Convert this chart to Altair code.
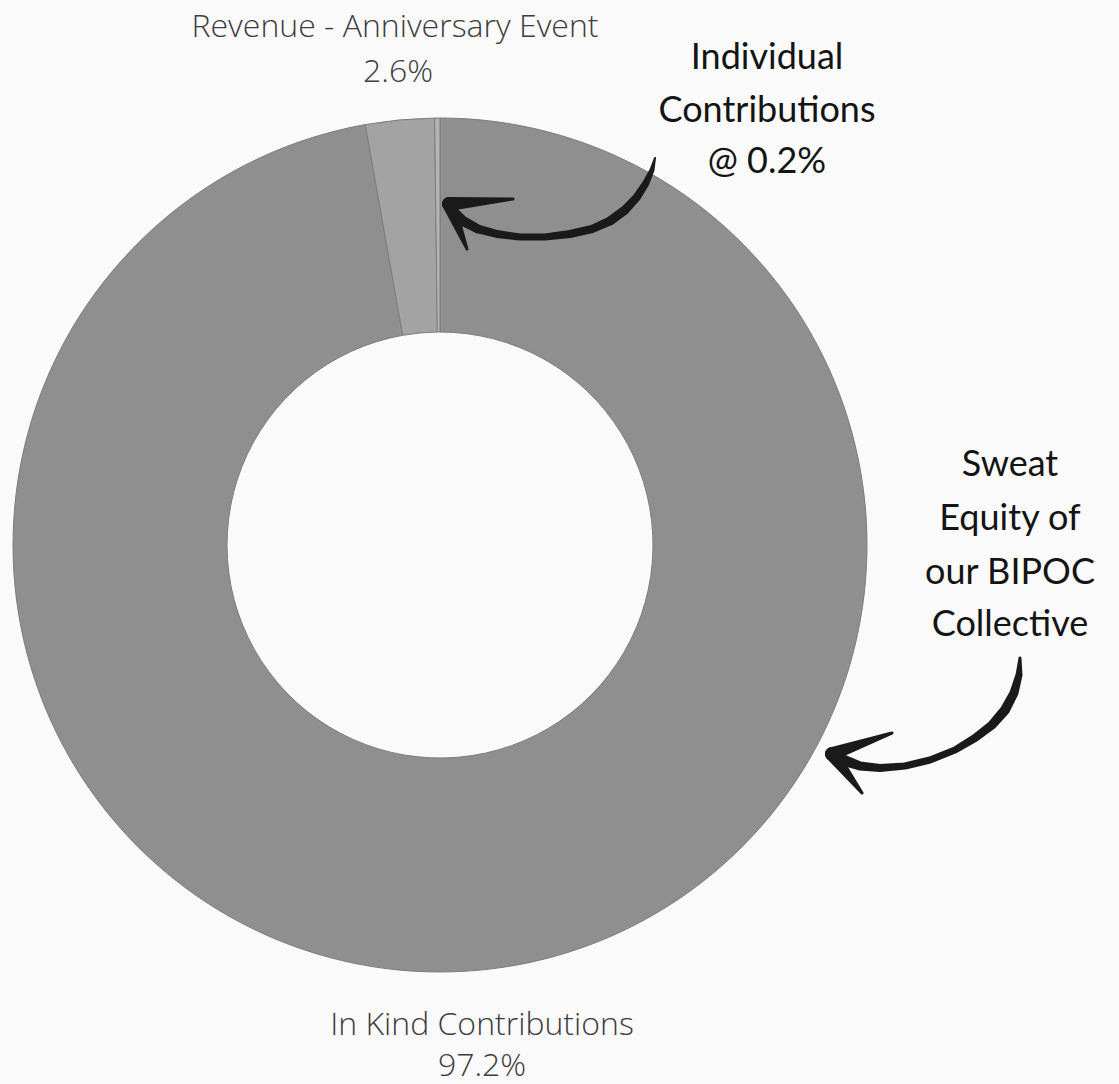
import altair as alt
import pandas as pd

# ---- data ----
categories = ["In Kind Contributions", "Revenue - Anniversary Event", "Individual Contributions"]
shares = [97.2, 2.6, 0.2]
slice_order = [1, 2, 3]
slice_colors = ["#8f8f8f", "#a3a3a3", "#b4b4b4"]

label_lines = ["Revenue - Anniversary Event", "2.6%", "In Kind Contributions", "97.2%"]
note_lines = ["Individual", "Contributions", "@ 0.2%", "Sweat", "Equity of", "our BIPOC", "Collective"]

W, H = 1119, 1084
CX, CY = 440, 545
R_OUT, R_IN = 427, 213

df = pd.DataFrame({"category": categories, "share": shares, "ord": slice_order})

donut = alt.Chart(df).mark_arc(
    outerRadius=R_OUT, innerRadius=R_IN, stroke="#7d7d7d", strokeWidth=1
).encode(
    theta=alt.Theta("share:Q", stack=True),
    order=alt.Order("ord:Q"),
    color=alt.Color("category:N", scale=alt.Scale(domain=categories, range=slice_colors), legend=None),
    x=alt.value(CX),
    y=alt.value(CY),
)

# slice labels
lab_df = pd.DataFrame({
    "t": label_lines,
    "px": [395, 398, 482, 482],
    "py": [27, 72, 1025, 1066],
})
labels = alt.Chart(lab_df).mark_text(
    font="Open Sans", fontWeight=300, fontSize=32,
    color="#3d3d3d", align="center", baseline="middle"
).encode(
    x=alt.X("px:Q", scale=None), y=alt.Y("py:Q", scale=None), text="t:N"
)

# handwritten-style notes
note_df = pd.DataFrame({
    "t": note_lines,
    "px": [767, 767, 767, 1010, 1010, 1010, 1010],
    "py": [58, 111, 162, 465, 519, 573, 625],
})
notes = alt.Chart(note_df).mark_text(
    font="Lato", fontWeight=400, fontSize=36,
    color="#141414", align="center", baseline="middle"
).encode(
    x=alt.X("px:Q", scale=None), y=alt.Y("py:Q", scale=None), text="t:N"
)

# arrows (annotation strokes)
arrow1_x = [655, 652, 646, 637, 625, 610, 592, 570, 545, 520, 497, 478, 463, 453, 449]
arrow1_y = [158, 170, 183, 197, 210, 221, 229, 234, 237, 237, 234, 229, 221, 212, 204]
arrow1_w = [2, 5, 7, 8, 9, 9, 8, 8, 7, 7, 8, 9, 10, 11, 11]
arrow2_x = [1020, 1019, 1014, 1005, 992, 975, 955, 930, 905, 880, 860, 843, 832]
arrow2_y = [658, 675, 693, 710, 725, 738, 750, 760, 766, 768, 766, 760, 754]
arrow2_w = [3, 7, 9, 10, 9, 8, 7, 7, 7, 8, 9, 11, 11]
heads = [
    ([449, 513], [204, 199], "h1a"),
    ([449, 467], [204, 249], "h1b"),
    ([832, 892], [754, 733], "h2a"),
    ([832, 862], [754, 793], "h2b"),
]

rows = []
for i, (x, y, w) in enumerate(zip(arrow1_x, arrow1_y, arrow1_w)):
    rows.append({"g": "a1", "i": i, "px": x, "py": y, "w": w})
for i, (x, y, w) in enumerate(zip(arrow2_x, arrow2_y, arrow2_w)):
    rows.append({"g": "a2", "i": i, "px": x, "py": y, "w": w})
arrow_df = pd.DataFrame(rows)

shafts = alt.Chart(arrow_df).mark_trail(color="#1a1a1a").encode(
    x=alt.X("px:Q", scale=None),
    y=alt.Y("py:Q", scale=None),
    detail="g:N",
    order="i:Q",
    size=alt.Size("w:Q", scale=None, legend=None),
)

hrows = []
for xs, ys, g in heads:
    for j, (x, y) in enumerate(zip(xs, ys)):
        hrows.append({"g": g, "i": j, "px": x, "py": y, "w": 14 - 11 * j})
head_df = pd.DataFrame(hrows)
barbs = alt.Chart(head_df).mark_trail(color="#1a1a1a").encode(
    x=alt.X("px:Q", scale=None),
    y=alt.Y("py:Q", scale=None),
    detail="g:N",
    order="i:Q",
    size=alt.Size("w:Q", scale=None, legend=None),
)

chart = alt.layer(donut, labels, notes, shafts, barbs).properties(
    width=W, height=H,
    autosize=alt.AutoSizeParams(type="fit", contains="padding"),
    padding=0,
    background="#fafafa",
).configure_view(stroke=None)

chart.save("out.html", embed_options={"renderer": "svg", "actions": False})
